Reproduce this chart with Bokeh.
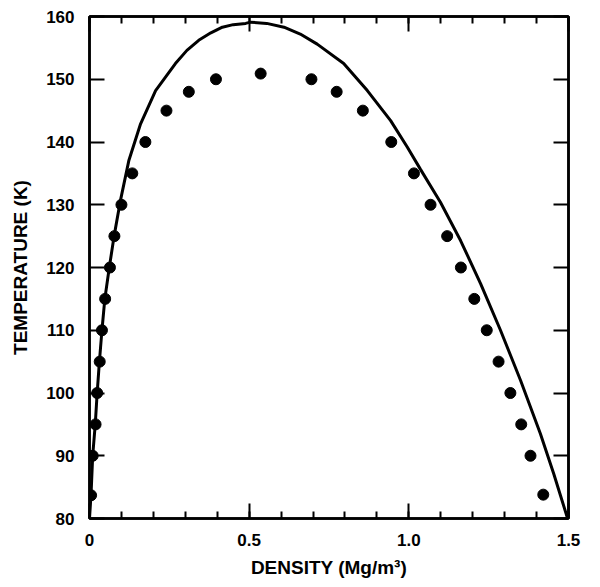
from bokeh.plotting import figure
from bokeh.models import Range1d, SingleIntervalTicker, LinearAxis, CustomLabelingPolicy
from bokeh.embed import file_html
from bokeh.resources import INLINE

# Measured coexistence points (density Mg/m^3, temperature K)
density_pts = [0.005, 0.010, 0.019, 0.024, 0.032, 0.039, 0.049, 0.064, 0.078, 0.100,
               0.134, 0.175, 0.241, 0.311, 0.396, 0.536, 0.695, 0.774, 0.856, 0.945,
               1.016, 1.068, 1.120, 1.163, 1.205, 1.244, 1.281, 1.318, 1.352, 1.381, 1.421]
temp_pts = [83.7, 90, 95, 100, 105, 110, 115, 120, 125, 130,
            135, 140, 145, 148, 150, 150.9, 150, 148, 145, 140,
            135, 130, 125, 120, 115, 110, 105, 100, 95, 90, 83.8]

# Calculated curve
density_curve = [0.0, 0.005, 0.010, 0.018, 0.024, 0.031, 0.039, 0.048, 0.062, 0.077,
                 0.097, 0.123, 0.160, 0.207, 0.269, 0.305, 0.342, 0.380, 0.416, 0.450,
                 0.489, 0.504, 0.555, 0.609, 0.660, 0.713, 0.796, 0.870, 0.943, 0.995,
                 1.037, 1.099, 1.162, 1.225, 1.287, 1.350, 1.412, 1.454, 1.496]
temp_curve = [80, 84, 90, 95, 100, 105, 110, 115, 120, 125,
              130.7, 137.0, 142.9, 148.2, 152.5, 154.6, 156.2, 157.4, 158.3, 158.7,
              158.9, 159.1, 158.9, 158.3, 157.2, 155.6, 152.5, 148.2, 143.4, 139.2,
              135.6, 130.4, 124.3, 117.4, 110.0, 102.0, 93.5, 87.1, 80.2]

x_label = "DENSITY (Mg/m\u00b3)"
y_label = "TEMPERATURE (K)"
x_tick_labels = {0: "0", 0.5: "0.5", 1: "1.0", 1.5: "1.5"}

FONT = "Liberation Sans"

p = figure(width=600, height=587, output_backend="svg", toolbar_location=None,
           x_range=Range1d(0, 1.5), y_range=Range1d(80, 160),
           min_border_left=89, min_border_right=32, min_border_top=16, min_border_bottom=69,
           background_fill_color="white", border_fill_color="white")
p.grid.visible = False
p.outline_line_color = "black"
p.outline_line_width = 2.5

def style(ax):
    ax.axis_line_color = "black"
    ax.axis_line_width = 2.5
    ax.major_tick_line_color = "black"
    ax.major_tick_line_width = 2
    ax.minor_tick_line_color = "black"
    ax.minor_tick_line_width = 2
    ax.major_tick_in = 15
    ax.major_tick_out = 0
    ax.minor_tick_in = 7
    ax.minor_tick_out = 0
    ax.major_label_text_font = FONT
    ax.major_label_text_font_style = "bold"
    ax.major_label_text_font_size = "17px"
    ax.major_label_text_color = "black"
    ax.axis_label_text_font = FONT
    ax.axis_label_text_font_style = "bold"
    ax.axis_label_text_font_size = "19px"
    ax.axis_label_text_color = "black"

p.xaxis.ticker = SingleIntervalTicker(interval=0.5, num_minor_ticks=5)
p.yaxis.ticker = SingleIntervalTicker(interval=10, num_minor_ticks=0)
style(p.xaxis[0])
style(p.yaxis[0])
p.xaxis.major_label_overrides = x_tick_labels
p.xaxis.major_label_standoff = 15
p.yaxis.major_label_standoff = 15
p.xaxis.axis_label = x_label
p.yaxis.axis_label = y_label
p.xaxis.axis_label_standoff = 8
p.yaxis.axis_label_standoff = 12

no_labels = CustomLabelingPolicy(code="return []")

top = LinearAxis(ticker=SingleIntervalTicker(interval=0.5, num_minor_ticks=5))
style(top)
top.major_label_policy = no_labels
top.major_label_standoff = 0
p.add_layout(top, "above")
right = LinearAxis(ticker=SingleIntervalTicker(interval=10, num_minor_ticks=0))
style(right)
right.major_label_policy = CustomLabelingPolicy(code="return []")
right.major_label_standoff = 0
p.add_layout(right, "right")

p.line(density_curve, temp_curve, line_color="black", line_width=3)
p.scatter(density_pts, temp_pts, size=11, marker="circle", fill_color="black", line_color="black")

open("out.html", "w").write(file_html(p, INLINE))
